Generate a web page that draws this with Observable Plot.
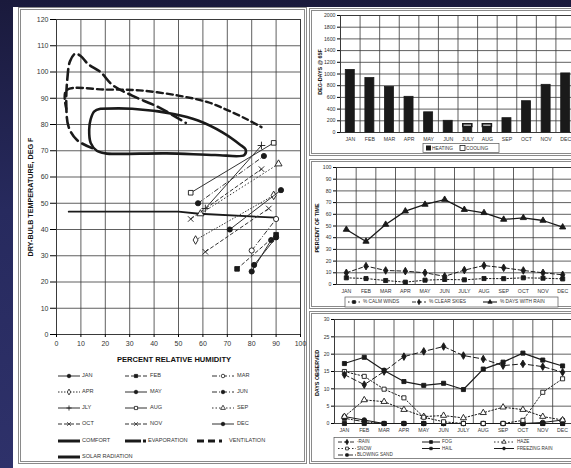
<!DOCTYPE html>
<html><head><meta charset="utf-8">
<script src="https://cdn.jsdelivr.net/npm/d3@7"></script>
<script src="https://cdn.jsdelivr.net/npm/@observablehq/plot@0.6"></script>
<style>
html,body{margin:0;padding:0;width:571px;height:468px;overflow:hidden;background:#1d1d45;}
#page{position:relative;width:571px;height:468px;overflow:hidden;background:linear-gradient(180deg,#1a1a3c 0%,#272a5e 45%,#2e316a 100%);font-family:"Liberation Sans",Arial,sans-serif;}
#white{position:absolute;left:13px;top:7px;width:570px;height:470px;background:#fff;}
.panel{position:absolute;border:3px double #8a8a8a;box-sizing:border-box;}
#page svg{position:absolute;left:0;top:0;max-width:none !important;}
</style></head>
<body><div id="page"><div id="white"></div>
<div class="panel" style="left:18px;top:7px;width:289px;height:457px"></div>
<div class="panel" style="left:309px;top:8px;width:280px;height:148px"></div>
<div class="panel" style="left:309px;top:159px;width:280px;height:150px"></div>
<div class="panel" style="left:309px;top:311px;width:280px;height:153px"></div>
</div>
<script>
// ---------- DATA ----------
const months = ["JAN","FEB","MAR","APR","MAY","JUN","JULY","AUG","SEP","OCT","NOV","DEC"];
const legendMonths = ["JAN","FEB","MAR","APR","MAY","JUN","JLY","AUG","SEP","OCT","NOV","DEC"];

// bioclimatic chart: each month line from (RH at low temp) to (RH at high temp)
const rhTicks = [0,10,20,30,40,50,60,70,80,90,100];
const tempTicks = [0,10,20,30,40,50,60,70,80,90,100,110,120];
const rhLow   = [80,74,80,57,71,58,61,55,59,61,55,81];
const tempLow = [24,25,32,36,40,50,48,54,46,31.5,44,26.5];
const rhHigh  = [88,90,90,89,92,85,84,89,91,87,84,90];
const tempHigh= [36,38,44,53,55,68,72,73,65,48,63,37];

const comfortRH = [18,31,48,58,68,75,77.5,77,65,45,26,20,16.5,14,13.4,14,15.5,18];
const comfortT  = [86,86,84,81.5,77,72.5,70.5,68.4,68.4,69,68.8,69,70,73,78,82,85,86];
const evapRH = [14.6,8.5,5,4,4.5,5.5,7.7,10,13,18,23,31,42,53];
const evapT  = [71,74,79,88,98,104,107,106,103,100,95,91,86.5,80.6];
const ventRH = [4,4,20,34,50,62,70,78,84];
const ventT  = [86,93,93.3,93,91,88.5,85.5,82,79];
const solarRH = [5,50,58.5,90];
const solarT  = [46.8,46.8,46,44.5];

// degree days @ 65F
const ddTicks = [0,200,400,600,800,1000,1200,1400,1600,1800,2000];
const heating = [1070,930,780,610,345,200,95,95,245,535,815,1010];
const cooling = [0,0,0,0,0,0,45,45,0,0,0,0];

// percent of time
const pctTicks = [0,10,20,30,40,50,60,70,80,90,100];
const calmWinds  = [5.7,5.1,3.4,2,3.7,4.3,4,5.1,5,5.7,5.4,4.8];
const clearSkies = [10,15.7,12,11.4,10,7,12.3,16.2,14.3,12,10,8.3];
const daysRain   = [47,36.8,51.3,62.7,68.4,72.6,64,61.3,55.6,57,54.7,49];

// days observed
const dayTicks = [0,5,10,15,20,25,30];
const rain   = [14.1,11.2,15,19.3,20.8,22.2,19.6,18.6,16.7,17.2,16.4,14.8];
const fog    = [17.3,19.1,15.3,12.1,11,11.6,9.8,15.7,17.7,20.3,18.3,16.6];
const haze   = [2,6.8,6.3,4,2,2.3,1.6,3.1,4.7,4,2,1];
const snow   = [15,13.6,9.9,7.4,1.8,0.5,0,0,0,0.9,9,12.9];
const hail   = [0,0,0,0,0,0,0,0,0,0,0,0];
const freezingRain = [2,1,0,0,0,0,0,0,0,0,0.3,1];
const blowingSand  = [1.5,0.5,0,0,0,0,0,0,0,0,0,0];

// ---------- HELPERS ----------
const page = document.getElementById("page");
const FONT = "Liberation Sans, Arial, sans-serif";
const INK = "#1a1a1a";
const GRID = "#3a3a3a";
function put(svg){ svg.style.maxWidth = "none"; svg.style.height = svg.getAttribute("height") + "px"; page.appendChild(svg); }
const zip = (xs, ys) => xs.map((x,i)=>({x, y: ys[i]}));
const mIdx = months.map((m,i)=>i);

// ---------- MAIN BIOCLIMATIC CHART ----------
const monthDash = ["", "4,2", "5,2,1,2", "1.5,1.5", "", "5,2,1,2", "", "", "1.5,2", "4,2", "4,2", ""];
const monthSym  = ["circle","square","circle","diamond","circle","circle","plus","square","triangle","times","times","circle"];
const monthFill = [true,true,false,false,true,true,false,false,false,false,false,true];
const monthRows = mIdx.map(i=>({i, rh1: rhLow[i], t1: tempLow[i], rh2: rhHigh[i], t2: tempHigh[i]}));

const mainMarks = [
  Plot.gridX(rhTicks, {stroke: GRID, strokeOpacity: 0.9, strokeWidth: 0.9}),
  Plot.gridY(tempTicks, {stroke: GRID, strokeOpacity: 0.9, strokeWidth: 0.9}),
  Plot.frame({stroke: GRID, strokeWidth: 1}),
  Plot.axisX(rhTicks, {tickSize: 3, tickPadding: 4, fontSize: 7, fill: "#333"}),
  Plot.axisY(tempTicks, {tickSize: 6, tickPadding: 2, fontSize: 7, fill: "#333"}),
  Plot.line(zip(comfortRH, comfortT), {x:"x", y:"y", stroke: INK, strokeWidth: 2.6, curve: "catmull-rom"}),
  Plot.line(zip(evapRH, evapT), {x:"x", y:"y", stroke: INK, strokeWidth: 2.6, strokeDasharray: "11,5", curve: "catmull-rom"}),
  Plot.line(zip(ventRH, ventT), {x:"x", y:"y", stroke: INK, strokeWidth: 2.4, strokeDasharray: "6,4", curve: "catmull-rom"}),
  Plot.line(zip(solarRH, solarT), {x:"x", y:"y", stroke: INK, strokeWidth: 1.8})
];
mIdx.forEach(i => {
  mainMarks.push(Plot.link([monthRows[i]], {x1:"rh1", y1:"t1", x2:"rh2", y2:"t2", stroke:"#333", strokeWidth: 1, strokeDasharray: monthDash[i]}));
  const pts = [{x: rhLow[i], y: tempLow[i]}, {x: rhHigh[i], y: tempHigh[i]}];
  const stroky = monthSym[i] === "plus" || monthSym[i] === "times";
  mainMarks.push(Plot.dot(pts, {x:"x", y:"y", symbol: monthSym[i], r: 2.6,
    fill: stroky ? "none" : (monthFill[i] ? INK : "white"), stroke: INK, strokeWidth: 0.9}));
});
put(Plot.plot({
  width: 571, height: 468,
  marginLeft: 56, marginRight: 271, marginTop: 19, marginBottom: 134,
  style: {background: "transparent", fontFamily: FONT, overflow: "visible", maxWidth: "none"},
  x: {domain: [0,100], label: null},
  y: {domain: [0,120], label: null},
  marks: mainMarks
}));

// ---------- RIGHT PANELS (months on linear index axis) ----------
const centers = mIdx.map(i => i + 0.5);
const edges = d3.range(0, 13);
function monthAxes(yTicks){
  return [
    Plot.gridX(edges, {stroke: GRID, strokeOpacity: 0.9, strokeWidth: 0.9}),
    Plot.gridY(yTicks, {stroke: GRID, strokeOpacity: 0.9, strokeWidth: 0.9}),
    Plot.frame({stroke: GRID, strokeWidth: 1}),
    Plot.axisX(centers, {tickSize: 0, tickPadding: 5, fontSize: 5.2, fill: "#333", tickFormat: d => months[Math.floor(d)]}),
    Plot.axisY(yTicks, {tickSize: 3, tickPadding: 2, fontSize: 5.2, fill: "#333", tickFormat: d => String(d)})
  ];
}
const rightStyle = {background: "transparent", fontFamily: FONT, overflow: "visible", maxWidth: "none"};

// Degree days
const ddRows = mIdx.map(i => ({i, h: heating[i], c: cooling[i]}));
put(Plot.plot({
  width: 600, height: 468,
  marginLeft: 340, marginRight: 25, marginTop: 15, marginBottom: 336,
  style: rightStyle,
  x: {domain: [0,12], label: null},
  y: {domain: [0,2000], label: null},
  marks: [
    ...monthAxes(ddTicks),
    Plot.rectY(ddRows, {x1: d => d.i + 0.27, x2: d => d.i + 0.73, y1: 0, y2: "h", fill: INK, stroke: INK, strokeWidth: 0.8}),
    Plot.rectY(ddRows.filter(d => d.c > 0), {x1: d => d.i + 0.27, x2: d => d.i + 0.73, y1: "h", y2: d => d.h + d.c, fill: "white", stroke: INK, strokeWidth: 1.6})
  ]
}));

// Percent of time
function seriesMarks(values, dash, sym, fill, width){
  const pts = values.map((v,i) => ({x: i + 0.5, y: v}));
  const stroky = sym === "plus" || sym === "times";
  return [
    Plot.line(pts, {x:"x", y:"y", stroke: INK, strokeWidth: width, strokeDasharray: dash}),
    Plot.dot(pts, {x:"x", y:"y", symbol: sym, r: 2.3, fill: stroky ? "none" : fill, stroke: INK, strokeWidth: 0.9})
  ];
}
put(Plot.plot({
  width: 600, height: 468,
  marginLeft: 336, marginRight: 28, marginTop: 167, marginBottom: 184,
  style: rightStyle,
  x: {domain: [0,12], label: null},
  y: {domain: [0,100], label: null},
  marks: [
    ...monthAxes(pctTicks),
    ...seriesMarks(calmWinds, "1.5,2", "square", INK, 1),
    ...seriesMarks(clearSkies, "4,2.5", "diamond", INK, 1),
    ...seriesMarks(daysRain, "", "triangle", INK, 1.3)
  ]
}));

// Days observed
put(Plot.plot({
  width: 600, height: 468,
  marginLeft: 334, marginRight: 28, marginTop: 319, marginBottom: 45,
  style: rightStyle,
  x: {domain: [0,12], label: null},
  y: {domain: [0,30], label: null},
  marks: [
    ...monthAxes(dayTicks),
    ...seriesMarks(hail, "", "square", INK, 1.2),
    ...seriesMarks(blowingSand, "5,2,1,2", "square", INK, 1),
    ...seriesMarks(freezingRain, "", "circle", INK, 1),
    ...seriesMarks(haze, "1.5,2", "triangle", "white", 1),
    ...seriesMarks(snow, "1.5,2", "square", "white", 1),
    ...seriesMarks(fog, "", "square", INK, 1.2),
    ...seriesMarks(rain, "5,3", "diamond", INK, 1)
  ]
}));

// ---------- TITLES & LEGENDS (overlay) ----------
const ov = d3.select(page).append("svg").attr("width", 571).attr("height", 468)
  .style("font-family", FONT);
function txt(x, y, s, size, opts = {}){
  const t = ov.append("text").attr("x", x).attr("y", y).text(s)
    .attr("font-size", size).attr("fill", opts.fill || "#333")
    .attr("font-weight", opts.bold ? "bold" : "normal")
    .attr("dominant-baseline", "middle")
    .attr("text-anchor", opts.anchor || "start");
  if (opts.rotate) t.attr("transform", `rotate(-90 ${x} ${y})`).attr("text-anchor", "middle");
  return t;
}
const symMap = {circle: d3.symbolCircle, square: d3.symbolSquare, diamond: d3.symbolDiamond,
  triangle: d3.symbolTriangle, plus: d3.symbolPlus || d3.symbolCross, times: d3.symbolTimes || d3.symbolCross};
function sample(x1, x2, y, dash, w, sym, filled, size = 12){
  ov.append("line").attr("x1", x1).attr("x2", x2).attr("y1", y).attr("y2", y)
    .attr("stroke", INK).attr("stroke-width", w).attr("stroke-dasharray", dash || null);
  if (sym){
    const stroky = sym === "plus" || sym === "times";
    ov.append("path").attr("d", d3.symbol(symMap[sym], size)())
      .attr("transform", `translate(${(x1+x2)/2},${y})`)
      .attr("fill", stroky ? "none" : (filled ? INK : "white")).attr("stroke", INK).attr("stroke-width", 0.8);
  }
}

// main axis titles
txt(174, 360, "PERCENT RELATIVE HUMIDITY", 7.6, {bold: true, anchor: "middle", fill: "#111"});
txt(31, 197, "DRY-BULB TEMPERATURE, DEG F", 7.2, {bold: true, rotate: true, fill: "#111"});

// main legend
const colSample = [[58,80],[125,147],[212,234]];
const colText = [82, 150, 237];
const rowY = [376, 392, 408, 424];
mIdx.forEach(i => {
  const r = Math.floor(i/3), c = i % 3;
  sample(colSample[c][0], colSample[c][1], rowY[r], monthDash[i], 0.9, monthSym[i], monthFill[i], 10);
  txt(colText[c], rowY[r], legendMonths[i], 5.6);
});
sample(58, 80, 441, "", 3);
txt(82, 441, "COMFORT", 5.6);
sample(125, 141, 441, "", 3);
ov.append("rect").attr("x", 143).attr("y", 439.5).attr("width", 3).attr("height", 3).attr("fill", INK);
txt(148, 441, "EVAPORATION", 5.6);
sample(197, 222, 441, "7,4", 3);
txt(229, 441, "VENTILATION", 5.6);
sample(58, 80, 457, "", 3);
txt(82, 457, "SOLAR RADIATION", 5.6);

// right titles
txt(321, 72, "DEG-DAYS @ 65F", 5.4, {bold: true, rotate: true, fill: "#111"});
txt(318, 228, "PERCENT OF TIME", 5.4, {bold: true, rotate: true, fill: "#111"});
txt(318, 373, "DAYS OBSERVED", 5.4, {bold: true, rotate: true, fill: "#111"});

// degree-day legend
ov.append("rect").attr("x", 423).attr("y", 143.5).attr("width", 76).attr("height", 9).attr("fill", "white").attr("stroke", "#555").attr("stroke-width", 0.7);
ov.append("rect").attr("x", 426).attr("y", 145.5).attr("width", 5).attr("height", 5).attr("fill", INK);
txt(432, 148.3, "HEATING", 4.8);
ov.append("rect").attr("x", 460).attr("y", 145.5).attr("width", 5).attr("height", 5).attr("fill", "white").attr("stroke", INK).attr("stroke-width", 0.8);
txt(466, 148.3, "COOLING", 4.8);

// percent legend
ov.append("rect").attr("x", 345).attr("y", 297).attr("width", 213).attr("height", 10).attr("fill", "white").attr("stroke", "#555").attr("stroke-width", 0.7);
sample(348, 360, 302, "1.5,2", 0.9, "square", true, 8);
txt(363, 302, "% CALM WINDS", 4.8);
sample(412, 426, 302, "4,2", 0.9, "diamond", true, 8);
txt(429, 302, "% CLEAR SKIES", 4.8);
sample(483, 497, 302, "", 1.1, "triangle", true, 8);
txt(500, 302, "% DAYS WITH RAIN", 4.8);

// days legend
ov.append("rect").attr("x", 334).attr("y", 437.5).attr("width", 250).attr("height", 21).attr("fill", "white").attr("stroke", "#555").attr("stroke-width", 0.7);
sample(338, 356, 442, "4,2", 0.9, "diamond", true, 8);  txt(357, 442, "-RAIN", 4.6);
sample(422, 440, 442, "", 1, "square", true, 8);        txt(442, 442, "FOG", 4.6);
sample(494, 514, 442, "1.5,2", 0.9, "triangle", false, 8); txt(517, 442, "HAZE", 4.6);
sample(338, 356, 448.5, "1.5,2", 0.9, "square", false, 8); txt(357, 448.5, "SNOW", 4.6);
sample(422, 440, 448.5, "", 1, "square", true, 6);      txt(442, 448.5, "HAIL", 4.6);
sample(494, 514, 448.5, "", 1, "circle", true, 6);      txt(517, 448.5, "FREEZING RAIN", 4.6);
sample(338, 356, 455, "5,2,1,2", 0.9, "square", true, 6); txt(357, 455, "BLOWING SAND", 4.6);
</script>
</body></html>
